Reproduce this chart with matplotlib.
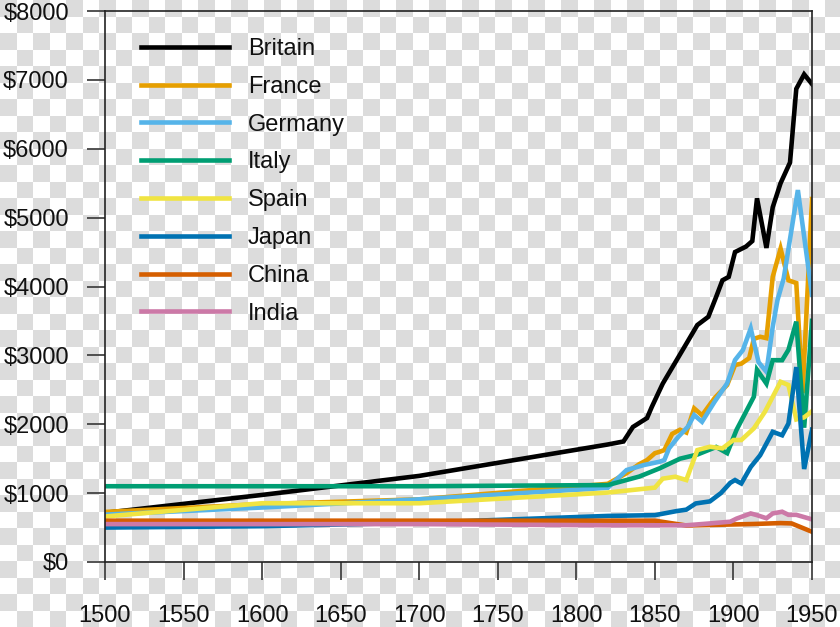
import numpy as np
import matplotlib
matplotlib.use("Agg")
import matplotlib.pyplot as plt

# ---------------- data (GDP per capita) ----------------
britain_years = [1500, 1600, 1700, 1820, 1830, 1836, 1845, 1848, 1855, 1862, 1869, 1877, 1884,
                 1889, 1893, 1897, 1901, 1908, 1912, 1915, 1921, 1925, 1930, 1936, 1940, 1945, 1950]
britain_vals = [714, 974, 1250, 1706, 1750, 1960, 2090, 2250, 2590, 2860, 3130, 3440, 3560,
                3850, 4090, 4140, 4500, 4580, 4660, 5280, 4560, 5150, 5500, 5800, 6870, 7080, 6940]

france_years = [1500, 1600, 1700, 1820, 1832, 1840, 1845, 1850, 1853, 1856, 1861, 1866, 1870,
                1875, 1880, 1888, 1896, 1901, 1905, 1910, 1913, 1917, 1921, 1925, 1930, 1935,
                1940, 1944, 1950]
france_vals = [727, 841, 910, 1135, 1290, 1420, 1480, 1580, 1600, 1625, 1860, 1920, 1880,
               2230, 2130, 2380, 2570, 2860, 2880, 2960, 3240, 3270, 3250, 4140, 4550, 4090,
               4050, 2450, 5270]

germany_years = [1500, 1600, 1700, 1820, 1832, 1843, 1853, 1856, 1859, 1865, 1871, 1875, 1880,
                 1888, 1896, 1901, 1906, 1911, 1916, 1921, 1925, 1928, 1932, 1941, 1950]
germany_vals = [688, 791, 910, 1077, 1335, 1408, 1456, 1480, 1650, 1820, 1964, 2134, 2036,
                2327, 2594, 2932, 3077, 3391, 2900, 2762, 3415, 3800, 4118, 5400, 3881]

italy_years = [1500, 1600, 1700, 1820, 1840, 1853, 1866, 1877, 1889, 1896, 1902, 1913, 1915,
               1921, 1925, 1931, 1935, 1940, 1945, 1950]
italy_vals = [1100, 1100, 1100, 1117, 1240, 1360, 1500, 1560, 1670, 1580, 1920, 2400, 2790,
              2590, 2930, 2930, 3080, 3490, 1950, 3500]

spain_years = [1500, 1600, 1700, 1820, 1850, 1855, 1863, 1870, 1877, 1885, 1893, 1900, 1905,
               1913, 1920, 1930, 1935, 1940, 1945, 1950]
spain_vals = [661, 853, 853, 1008, 1080, 1210, 1238, 1190, 1625, 1673, 1650, 1771, 1771,
              1940, 2180, 2617, 2569, 2070, 2100, 2189]

japan_years = [1500, 1600, 1700, 1820, 1850, 1864, 1870, 1876, 1879, 1885, 1892, 1898, 1901,
               1905, 1911, 1917, 1925, 1931, 1935, 1940, 1945, 1950]
japan_vals = [500, 520, 570, 669, 680, 740, 760, 850, 860, 880, 1000, 1150, 1190,
              1140, 1380, 1550, 1890, 1840, 2010, 2830, 1350, 1921]

china_years = [1500, 1600, 1700, 1820, 1850, 1870, 1890, 1913, 1930, 1937, 1950]
china_vals = [600, 600, 600, 600, 600, 530, 540, 552, 565, 560, 439]

india_years = [1500, 1600, 1700, 1820, 1870, 1885, 1898, 1902, 1911, 1915, 1921, 1925, 1931,
               1935, 1940, 1950]
india_vals = [550, 550, 550, 533, 533, 560, 585, 630, 705, 680, 635, 705, 730, 685, 685, 619]

series_names = ["Britain", "France", "Germany", "Italy", "Spain", "Japan", "China", "India"]
series_years = [britain_years, france_years, germany_years, italy_years, spain_years,
                japan_years, china_years, india_years]
series_vals = [britain_vals, france_vals, germany_vals, italy_vals, spain_vals,
               japan_vals, china_vals, india_vals]
series_colors = ["#000000", "#E69F00", "#56B4E9", "#009E73", "#F0E442",
                 "#0072B2", "#D55E00", "#CC79A7"]

x_ticks = [1500, 1550, 1600, 1650, 1700, 1750, 1800, 1850, 1900, 1950]
y_ticks = [0, 1000, 2000, 3000, 4000, 5000, 6000, 7000, 8000]
y_tick_labels = ["$" + str(v) for v in y_ticks]

# ---------------- figure ----------------
W, H, DPI = 840, 627, 100
plt.rcParams["font.family"] = ["Liberation Sans", "DejaVu Sans"]
fig = plt.figure(figsize=(W / DPI, H / DPI), dpi=DPI)
fig.patch.set_facecolor("white")

# transparent-background checkerboard
sq = 16.5
yy, xx = np.mgrid[0:H, 0:W]
chk = ((np.floor(yy / sq) + np.floor(xx / sq)) % 2 == 0)
bg = np.where(chk, 0.863, 1.0)
img = np.dstack([bg, bg, bg])
fig.figimage(img, xo=0, yo=0, origin="upper", zorder=-10)

ax = fig.add_axes([105 / W, 1 - 562 / H, (812 - 105) / W, (562 - 11) / H])
ax.set_facecolor("none")

for name, yrs, vals, col in zip(series_names, series_years, series_vals, series_colors):
    ax.plot(yrs, vals, color=col, lw=3.3, label=name, solid_joinstyle="miter")

ax.set_xlim(1500, 1950)
ax.set_ylim(0, 8000)
ax.set_xticks(x_ticks)
ax.set_xticklabels([str(v) for v in x_ticks])
ax.set_yticks(y_ticks)
ax.set_yticklabels(y_tick_labels)

for s in ax.spines.values():
    s.set_color("#222222")
    s.set_linewidth(1.2)
ax.tick_params(axis="both", direction="out", length=13, width=1.3, color="#444444",
               labelsize=17, labelcolor="#111111")
ax.tick_params(axis="y", pad=13)
ax.tick_params(axis="x", pad=18)

leg = ax.legend(loc="upper left", bbox_to_anchor=(141 / W, 1 - 38 / H),
                bbox_transform=fig.transFigure, frameon=False, fontsize=17,
                handlelength=3.73, handletextpad=0.8, labelspacing=0.67,
                borderpad=0, borderaxespad=0)
for t in leg.get_texts():
    t.set_color("#111111")

fig.savefig("out.png", dpi=DPI)
